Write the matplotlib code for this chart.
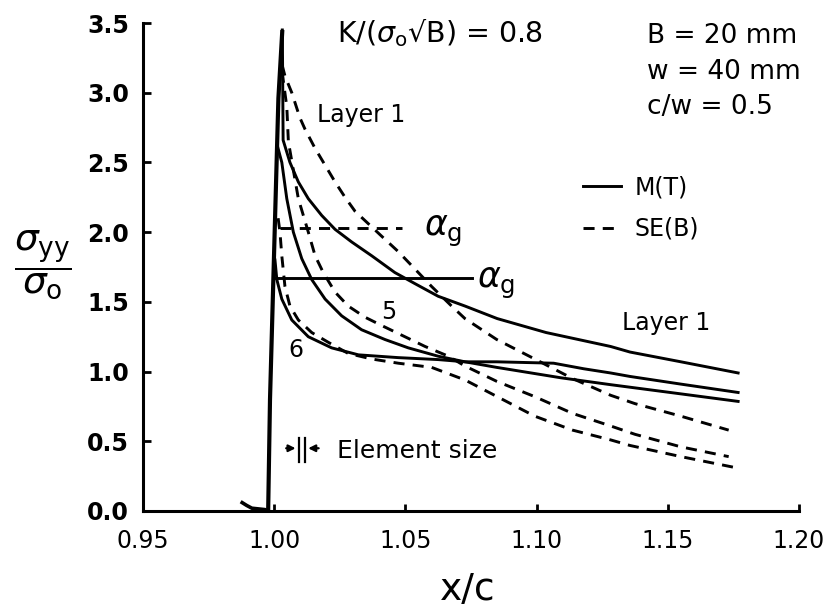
import numpy as np
import matplotlib
matplotlib.use("Agg")
import matplotlib.pyplot as plt

plt.rcParams['font.family'] = ['DejaVu Sans']
plt.rcParams['mathtext.fontset'] = 'dejavusans'

# -------------------------------
# DATA
# -------------------------------

# common steep rise at the crack tip, plus the small wiggle just ahead of it
rise_x = [0.9977, 0.9984, 1.0016, 1.0031]
rise_y = [0.0, 0.80, 2.96, 3.45]
tip_x = [0.9878, 0.9895, 0.9915, 0.9940, 0.9965, 0.9977]
tip_y = [0.06, 0.04, 0.02, 0.015, 0.01, 0.0]

# M(T), solid
mt_layer1_x = [1.0031, 1.0034, 1.0060, 1.0092, 1.0130, 1.0181, 1.0232, 1.0295, 1.0372,
               1.0460, 1.0537, 1.0625, 1.0727, 1.0850, 1.1036, 1.1282, 1.1356, 1.1550, 1.1768]
mt_layer1_y = [3.45, 2.66, 2.50, 2.36, 2.24, 2.12, 2.02, 1.93, 1.83,
               1.71, 1.63, 1.54, 1.47, 1.38, 1.28, 1.18, 1.14, 1.07, 0.99]

mt_layer5_x = [1.0012, 1.0029, 1.0048, 1.0073, 1.0105, 1.0143, 1.0194, 1.0257, 1.0333,
               1.0422, 1.0511, 1.0625, 1.0727, 1.0848, 1.1094, 1.1282, 1.1550, 1.1768]
mt_layer5_y = [2.62, 2.50, 2.24, 2.00, 1.81, 1.66, 1.52, 1.40, 1.30,
               1.23, 1.17, 1.11, 1.07, 1.03, 0.955, 0.906, 0.84, 0.786]

mt_layer6_x = [1.0003, 1.0010, 1.0029, 1.0067, 1.0130, 1.0219, 1.0321, 1.0473, 1.0625,
               1.0727, 1.0848, 1.1065, 1.1180, 1.1282, 1.1356, 1.1550, 1.1768]
mt_layer6_y = [1.80, 1.66, 1.52, 1.37, 1.25, 1.17, 1.12, 1.10, 1.086,
               1.07, 1.07, 1.06, 1.02, 0.99, 0.965, 0.91, 0.85]

# SE(B), dashed
seb_layer1_x = [1.0030, 1.0041, 1.0067, 1.0098, 1.0117, 1.0156, 1.0194, 1.0232, 1.0270,
                1.0308, 1.0359, 1.0410, 1.0473, 1.0524, 1.0600, 1.0676, 1.0727, 1.0848,
                1.0993, 1.1137, 1.1282, 1.1375, 1.1550, 1.1732]
seb_layer1_y = [3.20, 3.12, 3.00, 2.82, 2.74, 2.60, 2.48, 2.36, 2.25,
                2.15, 2.06, 1.97, 1.86, 1.76, 1.61, 1.47, 1.38, 1.23,
                1.09, 0.95, 0.83, 0.77, 0.68, 0.58]

seb_layer5_x = [1.0030, 1.0048, 1.0054, 1.0079, 1.0092, 1.0111, 1.0130, 1.0156, 1.0187,
                1.0232, 1.0282, 1.0346, 1.0410, 1.0498, 1.0575, 1.0664, 1.0727, 1.0848,
                1.0993, 1.1137, 1.1282, 1.1375, 1.1550, 1.1732]
seb_layer5_y = [3.15, 2.90, 2.65, 2.38, 2.24, 2.12, 2.00, 1.83, 1.71,
                1.57, 1.47, 1.39, 1.33, 1.25, 1.18, 1.11, 1.04, 0.93,
                0.82, 0.70, 0.61, 0.55, 0.46, 0.39]

seb_layer6_x = [1.0015, 1.0022, 1.0029, 1.0041, 1.0060, 1.0092, 1.0143, 1.0206, 1.0282,
                1.0372, 1.0473, 1.0600, 1.0727, 1.0850, 1.0993, 1.1137, 1.1282, 1.1356,
                1.1550, 1.1761]
seb_layer6_y = [2.10, 2.00, 1.83, 1.61, 1.47, 1.37, 1.28, 1.21, 1.13,
                1.09, 1.06, 1.03, 0.94, 0.82, 0.68, 0.58, 0.51, 0.47,
                0.39, 0.31]

# alpha_g levels and their extent in x/c
alpha_g_mt = 1.674
alpha_g_mt_x = [1.0007, 1.0754]
alpha_g_seb = 2.03
alpha_g_seb_x = [1.0022, 1.0486]

x_ticks = [0.95, 1.00, 1.05, 1.10, 1.15, 1.20]
y_ticks = [0.0, 0.5, 1.0, 1.5, 2.0, 2.5, 3.0, 3.5]

# -------------------------------
# PLOT
# -------------------------------

W, H = 831, 607
fig = plt.figure(figsize=(W / 100, H / 100), dpi=100)
ax = fig.add_axes([143 / W, 1 - 511 / H, 656 / W, 488 / H])


def fx(px):
    return px / W


def fy(py):
    return 1 - py / H


lw = 2.1
dash = (3.8, 2.8)

ax.plot(rise_x, rise_y, color='black', lw=3.0, solid_capstyle='butt')
ax.plot(tip_x, tip_y, color='black', lw=2.6)

h_mt, = ax.plot(mt_layer1_x, mt_layer1_y, color='black', lw=lw)
ax.plot(mt_layer5_x, mt_layer5_y, color='black', lw=lw)
ax.plot(mt_layer6_x, mt_layer6_y, color='black', lw=lw)

h_seb, = ax.plot(seb_layer1_x, seb_layer1_y, color='black', lw=lw, dashes=dash)
ax.plot(seb_layer5_x, seb_layer5_y, color='black', lw=lw, dashes=dash)
ax.plot(seb_layer6_x, seb_layer6_y, color='black', lw=lw, dashes=dash)

ax.plot(alpha_g_mt_x, [alpha_g_mt, alpha_g_mt], color='black', lw=lw)
ax.plot(alpha_g_seb_x, [alpha_g_seb, alpha_g_seb], color='black', lw=lw, dashes=dash)

ax.set_xlim(0.95, 1.20)
ax.set_ylim(0, 3.5)
ax.spines['top'].set_visible(False)
ax.spines['right'].set_visible(False)
ax.spines['left'].set_linewidth(2.2)
ax.spines['bottom'].set_linewidth(2.2)

ax.set_xticks(x_ticks)
ax.set_xticklabels(['%.2f' % t for t in x_ticks])
ax.set_yticks(y_ticks)
ax.set_yticklabels(['%.1f' % t for t in y_ticks], fontweight='bold')
ax.tick_params(axis='x', direction='in', length=5, width=2, labelsize=17, pad=13)
ax.tick_params(axis='y', direction='in', length=6, width=2, labelsize=17, pad=10)

# axis titles
fig.text(fx(468), fy(590), 'x/c', fontsize=27, ha='center', va='center')
fig.text(fx(43), fy(265), r'$\dfrac{\sigma_{\rm yy}}{\sigma_{\rm o}}$', fontsize=27,
         ha='center', va='center')

# annotations
fig.text(fx(337), fy(42), r'K/($\sigma_{\rm o}$√B) = 0.8', fontsize=20.5,
         ha='left', va='baseline')
fig.text(fx(647), fy(36), 'B = 20 mm', fontsize=19, ha='left', va='center')
fig.text(fx(647), fy(72), 'w = 40 mm', fontsize=19, ha='left', va='center')
fig.text(fx(647), fy(107), 'c/w = 0.5', fontsize=19, ha='left', va='center')

fig.text(fx(317), fy(115), 'Layer 1', fontsize=17, ha='left', va='center')
fig.text(fx(622), fy(323), 'Layer 1', fontsize=17, ha='left', va='center')
fig.text(fx(389), fy(312), '5', fontsize=17, ha='center', va='center')
fig.text(fx(296), fy(350), '6', fontsize=17, ha='center', va='center')

fig.text(fx(424), fy(236), r'$\alpha_{\rm g}$', fontsize=25, ha='left', va='baseline')
fig.text(fx(477), fy(288), r'$\alpha_{\rm g}$', fontsize=25, ha='left', va='baseline')

# element size marker
for xe in [1.0094, 1.0117]:
    ax.plot([xe, xe], [0.35, 0.52], color='black', lw=1.6)
ax.annotate('', xy=(1.0092, 0.45), xytext=(1.0035, 0.45),
            arrowprops=dict(arrowstyle='-|>', color='black', lw=1.6, mutation_scale=10))
ax.annotate('', xy=(1.0119, 0.45), xytext=(1.0180, 0.45),
            arrowprops=dict(arrowstyle='-|>', color='black', lw=1.6, mutation_scale=10))
fig.text(fx(337), fy(451), 'Element size', fontsize=18, ha='left', va='center')

leg = ax.legend([h_mt, h_seb], ['M(T)', 'SE(B)'], loc='center left',
                bbox_to_anchor=(fx(583), fy(208)), bbox_transform=fig.transFigure,
                frameon=False, fontsize=17, handlelength=1.6, handletextpad=0.6,
                borderpad=0, borderaxespad=0, labelspacing=0.75)

fig.savefig('out.png', dpi=100)
